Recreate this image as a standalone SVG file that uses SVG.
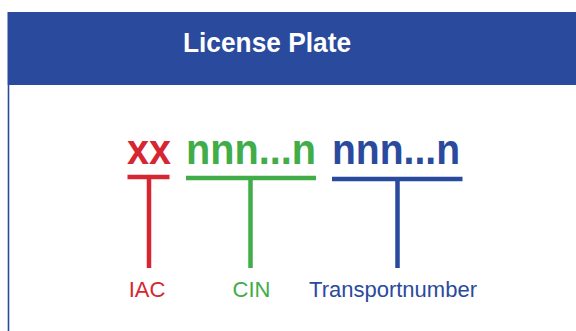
<svg xmlns="http://www.w3.org/2000/svg" width="576" height="331" viewBox="0 0 576 331">
  <style>
    .code { font-family: "Liberation Sans", Arial, sans-serif; font-weight: bold; font-size: 42px; text-anchor: middle; }
    .lbl { font-family: "Liberation Sans", Arial, sans-serif; font-size: 22px; text-anchor: middle; }
    .red { fill: #D62631; }
    .green { fill: #41AD49; }
    .blue { fill: #2A4A9E; }
  </style>
  <rect width="576" height="331" fill="#ffffff"/>

  <!-- panel frame -->
  <g id="frame">
    <rect x="7.5" y="12" width="568.5" height="73" fill="#2A4A9E"/>
    <line x1="8.5" y1="85" x2="8.5" y2="331" stroke="#2A4A9E" stroke-width="1.6"/>
    <text x="267" y="52" font-family="'Liberation Sans', Arial, sans-serif" font-weight="bold" font-size="28" fill="#ffffff" text-anchor="middle" textLength="168" lengthAdjust="spacingAndGlyphs">License Plate</text>
  </g>

  <!-- plate segments -->
  <g id="iac">
    <text class="code red" x="149" y="164" textLength="44" lengthAdjust="spacingAndGlyphs">xx</text>
    <text class="lbl red" x="147" y="297">IAC</text>
  </g>
  <g id="cin">
    <text class="code green" x="251" y="164" textLength="130" lengthAdjust="spacingAndGlyphs">nnn...n</text>
    <text class="lbl green" x="251.5" y="297">CIN</text>
  </g>
  <g id="transportnumber">
    <text class="code blue" x="396" y="164" textLength="128" lengthAdjust="spacingAndGlyphs">nnn...n</text>
    <text class="lbl blue" x="393" y="297">Transportnumber</text>
  </g>

  <!-- brackets linking segments to labels -->
  <g id="connectors" stroke-width="4.5" fill="none">
    <path d="M127.5 177 H169.5 M149 177 V268" stroke="#D62631"/>
    <path d="M186 178 H316 M250.5 178 V268" stroke="#41AD49"/>
    <path d="M332 179 H462.5 M397.5 179 V268" stroke="#2A4A9E"/>
  </g>
</svg>
